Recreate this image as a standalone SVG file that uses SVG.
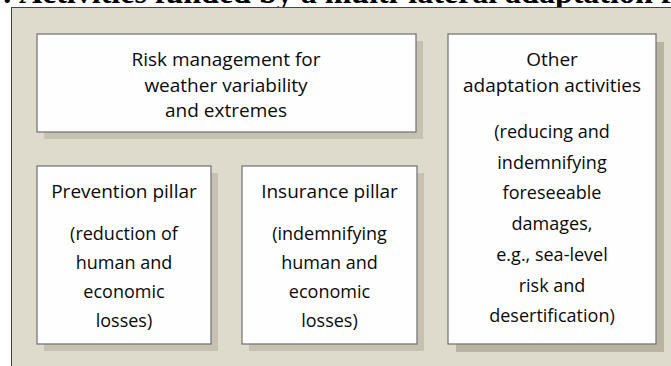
<svg xmlns="http://www.w3.org/2000/svg" width="671" height="366" viewBox="0 0 671 366">
<style>
.title{font-family:"Liberation Serif","Times New Roman",serif;font-weight:bold;font-size:32px;fill:#000}
.box{fill:#fefefe;stroke:#777;stroke-width:1.3}
.sh{fill:#c6c1b1}
.sh2{fill:#b9b4a2}
.t{font-family:"Open Sans","Noto Sans",sans-serif;font-size:19px;fill:#0a0a0a;text-anchor:middle}
.b{font-family:"Open Sans","Noto Sans",sans-serif;font-size:18px;fill:#0a0a0a;text-anchor:middle}
</style>
<rect width="671" height="366" fill="#ffffff"/>
<text class="title" x="2" y="2.5">: Activities funded by a multi-lateral adaptation f</text>
<rect x="11.5" y="7.5" width="700" height="400" fill="#dedbcc" stroke="#444" stroke-width="1"/>
<g id="connectors"/>
<g id="risk-management">
<rect class="sh" x="44" y="41" width="379" height="98"/>
<rect class="box" x="37" y="34" width="379" height="98"/>
<text class="t" x="226" y="66">Risk management for</text>
<text class="t" x="226" y="91.5">weather variability</text>
<text class="t" x="226" y="117">and extremes</text>
</g>
<g id="prevention-pillar">
<rect class="sh" x="44" y="173" width="174" height="178"/>
<rect class="box" x="37" y="166" width="174" height="178"/>
<text class="t" x="124" y="198">Prevention pillar</text>
<text class="b" x="124" y="240">(reduction of</text>
<text class="b" x="124" y="269">human and</text>
<text class="b" x="124" y="298">economic</text>
<text class="b" x="124" y="327">losses)</text>
</g>
<g id="insurance-pillar">
<rect class="sh" x="249" y="173" width="175" height="178"/>
<rect class="box" x="242" y="166" width="175" height="178"/>
<text class="t" x="329.5" y="198">Insurance pillar</text>
<text class="b" x="329.5" y="240">(indemnifying</text>
<text class="b" x="329.5" y="269">human and</text>
<text class="b" x="329.5" y="298">economic</text>
<text class="b" x="329.5" y="327">losses)</text>
</g>
<g id="other-adaptation">
<rect class="sh2" x="456" y="42" width="208" height="310"/>
<rect class="box" x="448" y="34" width="208" height="310"/>
<text class="t" x="552" y="66">Other</text>
<text class="t" x="552" y="92">adaptation activities</text>
<text class="b" x="552" y="138">(reducing and</text>
<text class="b" x="552" y="168.5">indemnifying</text>
<text class="b" x="552" y="199">foreseeable</text>
<text class="b" x="552" y="230">damages,</text>
<text class="b" x="552" y="261">e.g., sea-level</text>
<text class="b" x="552" y="291.5">risk and</text>
<text class="b" x="552" y="322">desertification)</text>
</g>
</svg>
